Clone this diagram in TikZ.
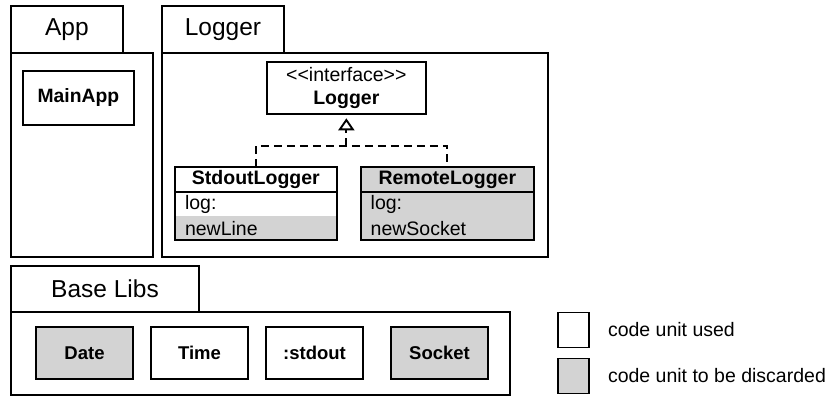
\documentclass[tikz,border=0pt]{standalone}
\usepackage{fontspec}
\setmainfont{Liberation Sans}
\usetikzlibrary{arrows.meta, positioning}
\definecolor{discard}{RGB}{211,211,211}

\begin{document}
\begin{tikzpicture}[
        x=1pt, y=-1pt,
        line width=1.9pt,
        every node/.style={outer sep=0pt, font=\fontsize{19.5}{23.4}\selectfont},
        tab/.style={draw, anchor=north west, font=\fontsize{24.5}{29}\selectfont},
        pkg/.style={draw, anchor=north west},
        box/.style={draw, fill=white, font=\bfseries\fontsize{19.3}{23}\selectfont},
        head/.style={draw, fill=white, inner sep=0pt, minimum height=25.6pt, font=\bfseries\fontsize{19.5}{23.4}\selectfont},
        row/.style={fill=white, text width=#1, inner xsep=10pt, inner ysep=0pt, minimum height=24pt},
        unit/.style={draw, fill=white, minimum width=97.6pt, minimum height=52.3pt, font=\bfseries\fontsize{18.5}{22}\selectfont},
        key/.style={draw, fill=white, inner sep=0pt, minimum width=31pt, minimum height=35pt},
        realize/.style={dash pattern=on 8pt off 5pt}
    ]
    \useasboundingbox (0,0) rectangle (831,397);

    \node[tab, minimum width=111.7pt, minimum height=47pt] (apptab) at (11,5.7) {App};
    \node[pkg, minimum width=142pt, minimum height=204pt] (app) at (apptab.south west) {};
    \node[box, minimum width=111.3pt, minimum height=54pt] (mainapp) at (78.35,98) {MainApp};

    \node[tab, minimum width=122pt, minimum height=47pt] (loggertab) at (162,5.7) {Logger};
    \node[pkg, minimum width=385.7pt, minimum height=204pt] (logger) at (loggertab.south west) {};
    \node[draw, fill=white, align=center, minimum width=159.3pt, minimum height=52.6pt] (iface) at (346.35,88)
        {<\kern0pt<interface>\kern0pt>\\\textbf{Logger}};

    \node[row=141.7pt] (stdoutlog) at (255.85,204.3) {log:};
    \node[row=141.7pt, fill=discard, below=0pt of stdoutlog] (stdoutnew) {newLine};
    \node[head, minimum width=161.7pt, above=0pt of stdoutlog] (stdout) {StdoutLogger};
    \draw (stdout.north west) rectangle (stdoutnew.south east);

    \node[row=153.3pt, fill=discard] (remotelog) at (447.35,204.3) {log:};
    \node[row=153.3pt, fill=discard, below=0pt of remotelog] (remotenew) {newSocket};
    \node[head, fill=discard, minimum width=173.3pt, above=0pt of remotelog] (remote) {RemoteLogger};
    \draw (remote.north west) rectangle (remotenew.south east);

    \coordinate (fork) at (iface.south |- 0,145.7);
    \draw[realize] (stdout.north) |- (fork) -| (remote.north);
    \draw[realize, -{Triangle[open, length=12pt, width=16pt]}, shorten >=4pt] (fork) -- (iface.south);

    \node[tab, minimum width=188pt, minimum height=46pt] (basetab) at (11,265.7) {Base Libs};
    \node[pkg, minimum width=499pt, minimum height=83.3pt] (base) at (basetab.south west) {};
    \node[unit, fill=discard] (date) at (84.5,352.85) {Date};
    \node[unit, right=17.4pt of date] (time) {Time};
    \node[unit, right=17.4pt of time] (stdoutunit) {:stdout};
    \node[unit, fill=discard, right=27.4pt of stdoutunit] (socket) {Socket};

    \node[key] (used) at (573.8,330) {};
    \node[key, fill=discard, below=11pt of used] (discarded) {};
    \node[right=18.7pt of used, inner sep=0pt] (usedlabel) {code unit used};
    \node[right=18.7pt of discarded, inner sep=0pt] (discardedlabel) {code unit to be discarded};
\end{tikzpicture}
\end{document}
